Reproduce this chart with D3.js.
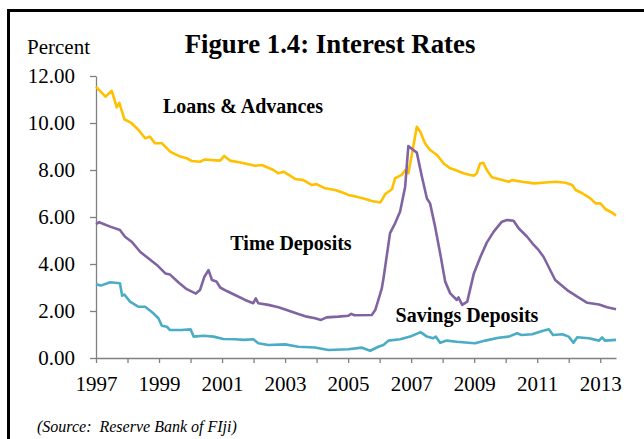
<!DOCTYPE html>
<html>
<head>
<meta charset="utf-8">
<script src="https://cdn.jsdelivr.net/npm/d3@7"></script>
<style>
  html, body { margin: 0; padding: 0; background: #fff; }
  svg { display: block; }
  text { font-family: "Liberation Serif", "Times New Roman", serif; fill: #000; }
</style>
</head>
<body>
<svg id="chart" width="644" height="439"></svg>
<script>
// Commercial bank interest rates, percent (decimal year, rate)
const loansAdvances = [
  [1997.0, 11.55], [1997.1, 11.40], [1997.3, 11.12], [1997.5, 11.37], [1997.66, 10.67],
  [1997.74, 10.86], [1997.9, 10.16], [1998.13, 9.99], [1998.35, 9.70], [1998.56, 9.35],
  [1998.71, 9.42], [1998.87, 9.14], [1999.09, 9.14], [1999.35, 8.78], [1999.67, 8.57],
  [1999.88, 8.50], [2000.04, 8.38], [2000.3, 8.35], [2000.46, 8.45], [2000.7, 8.42],
  [2000.94, 8.40], [2001.07, 8.60], [2001.25, 8.40], [2001.62, 8.31], [2002.05, 8.18],
  [2002.26, 8.21], [2002.63, 8.00], [2002.79, 7.86], [2002.95, 7.93], [2003.32, 7.62],
  [2003.58, 7.57], [2003.85, 7.36], [2004.0, 7.40], [2004.27, 7.22], [2004.59, 7.15],
  [2004.8, 7.05], [2005.01, 6.94], [2005.17, 6.89], [2005.49, 6.79], [2005.75, 6.68],
  [2006.02, 6.62], [2006.1, 6.79], [2006.18, 6.98], [2006.39, 7.18], [2006.49, 7.65],
  [2006.7, 7.79], [2006.81, 8.00], [2006.91, 7.86], [2007.02, 8.64], [2007.18, 9.84],
  [2007.29, 9.63], [2007.44, 9.14], [2007.6, 8.85], [2007.82, 8.64], [2008.03, 8.28],
  [2008.24, 8.07], [2008.4, 8.00], [2008.66, 7.86], [2008.87, 7.79], [2009.0, 7.76],
  [2009.08, 7.86], [2009.19, 8.28], [2009.29, 8.31], [2009.4, 8.00], [2009.56, 7.69],
  [2009.83, 7.60], [2010.1, 7.50], [2010.2, 7.57], [2010.52, 7.50], [2010.9, 7.43],
  [2011.27, 7.47], [2011.59, 7.50], [2011.9, 7.46], [2012.11, 7.36], [2012.22, 7.15],
  [2012.43, 7.01], [2012.69, 6.79], [2012.85, 6.58], [2013.0, 6.58], [2013.17, 6.33],
  [2013.38, 6.18], [2013.5, 6.06]
];

const timeDeposits = [
  [1997.0, 5.70], [1997.1, 5.78], [1997.45, 5.59], [1997.76, 5.45], [1997.92, 5.16],
  [1998.13, 4.95], [1998.4, 4.52], [1998.66, 4.24], [1998.93, 3.96], [1999.2, 3.60],
  [1999.35, 3.55], [1999.62, 3.21], [1999.88, 2.93], [2000.17, 2.74], [2000.3, 2.89],
  [2000.44, 3.46], [2000.57, 3.74], [2000.68, 3.32], [2000.82, 3.26], [2000.94, 3.00],
  [2001.15, 2.85], [2001.41, 2.68], [2001.73, 2.47], [2001.99, 2.33], [2002.07, 2.54],
  [2002.15, 2.33], [2002.47, 2.26], [2002.79, 2.16], [2003.05, 2.04], [2003.42, 1.87],
  [2003.69, 1.76], [2003.95, 1.69], [2004.14, 1.62], [2004.32, 1.73], [2004.69, 1.76],
  [2005.01, 1.80], [2005.1, 1.88], [2005.2, 1.82], [2005.75, 1.83], [2005.86, 2.04],
  [2005.96, 2.47], [2006.07, 2.97], [2006.13, 3.46], [2006.33, 5.31], [2006.49, 5.73],
  [2006.65, 6.23], [2006.81, 7.29], [2006.91, 9.02], [2007.07, 8.85], [2007.18, 8.74],
  [2007.34, 7.72], [2007.5, 6.79], [2007.6, 6.58], [2007.76, 5.59], [2007.92, 4.46],
  [2008.08, 3.25], [2008.24, 2.75], [2008.45, 2.47], [2008.5, 2.58], [2008.62, 2.26],
  [2008.78, 2.40], [2008.99, 3.60], [2009.2, 4.31], [2009.4, 4.91], [2009.62, 5.38],
  [2009.88, 5.80], [2010.04, 5.87], [2010.25, 5.84], [2010.41, 5.52], [2010.68, 5.16],
  [2010.89, 4.81], [2011.04, 4.60], [2011.2, 4.31], [2011.57, 3.32], [2011.95, 2.89],
  [2012.27, 2.61], [2012.59, 2.35], [2012.96, 2.28], [2013.22, 2.16], [2013.5, 2.07]
];

const savingsDeposits = [
  [1997.0, 3.14], [1997.15, 3.08], [1997.45, 3.22], [1997.76, 3.18], [1997.83, 2.65],
  [1997.9, 2.70], [1998.08, 2.40], [1998.35, 2.18], [1998.56, 2.18], [1998.82, 1.90],
  [1998.98, 1.69], [1999.09, 1.37], [1999.25, 1.33], [1999.35, 1.19], [1999.72, 1.19],
  [2000.0, 1.22], [2000.1, 0.91], [2000.41, 0.95], [2000.73, 0.91], [2001.04, 0.81],
  [2001.41, 0.80], [2001.7, 0.77], [2001.99, 0.80], [2002.15, 0.63], [2002.47, 0.55],
  [2003.0, 0.58], [2003.42, 0.48], [2003.95, 0.45], [2004.37, 0.34], [2005.0, 0.37],
  [2005.44, 0.44], [2005.7, 0.31], [2005.96, 0.48], [2006.12, 0.55], [2006.28, 0.74],
  [2006.65, 0.80], [2006.97, 0.91], [2007.3, 1.10], [2007.5, 0.91], [2007.7, 0.84],
  [2007.78, 0.91], [2007.92, 0.65], [2008.13, 0.74], [2008.45, 0.69], [2008.82, 0.65],
  [2009.03, 0.63], [2009.35, 0.74], [2009.77, 0.86], [2010.1, 0.91], [2010.36, 1.05],
  [2010.5, 0.98], [2010.84, 1.01], [2011.16, 1.15], [2011.37, 1.22], [2011.5, 0.98],
  [2011.8, 1.01], [2012.0, 0.91], [2012.15, 0.65], [2012.27, 0.88], [2012.64, 0.84],
  [2012.96, 0.74], [2013.06, 0.88], [2013.15, 0.74], [2013.5, 0.77]
];

const yTicks = [0, 2, 4, 6, 8, 10, 12];
const xTickYears = d3.range(1997, 2014);
const xLabelYears = [1997, 1999, 2001, 2003, 2005, 2007, 2009, 2011, 2013];

const seriesList = [
  { name: "Loans & Advances", values: loansAdvances, color: "#FFC000", label: [243, 106] },
  { name: "Time Deposits", values: timeDeposits, color: "#8064A2", label: [291, 243] },
  { name: "Savings Deposits", values: savingsDeposits, color: "#4BACC6", label: [467, 315] }
];

const svg = d3.select("#chart");
const W = 644, H = 439;
const plot = { left: 96, right: 616, top: 76, bottom: 358 };

const x = d3.scaleLinear().domain([1997, 2013.5]).range([plot.left, plot.right]);
const y = d3.scaleLinear().domain([0, 12]).range([plot.bottom, plot.top]);

// frame: heavy rule along the top and left edges
svg.append("line").attr("x1", 7).attr("x2", W).attr("y1", 10.5).attr("y2", 10.5)
  .attr("stroke", "#000").attr("stroke-width", 3);
svg.append("line").attr("x1", 8.5).attr("x2", 8.5).attr("y1", 9).attr("y2", H)
  .attr("stroke", "#000").attr("stroke-width", 3);

// title and unit label
svg.append("text").attr("x", 330).attr("y", 53).attr("text-anchor", "middle")
  .style("font-weight", "bold").style("font-size", "26.8px")
  .text("Figure 1.4: Interest Rates");
svg.append("text").attr("x", 27).attr("y", 54).style("font-size", "21px").text("Percent");

// y axis
const yAxis = d3.axisLeft(y).tickValues(yTicks).tickFormat(d3.format(".2f"))
  .tickSizeInner(6).tickSizeOuter(0).tickPadding(15);
const gy = svg.append("g").attr("transform", `translate(${plot.left},0)`).call(yAxis);
gy.select(".domain").attr("stroke", "#808080").attr("stroke-width", 1.3);
gy.selectAll(".tick line").attr("stroke", "#808080").attr("stroke-width", 1.3);
gy.selectAll(".tick text").style("font-size", "21px")
  .style("font-family", "'Liberation Serif', serif").attr("fill", "#000");

// x axis: a tick every year, labels every other year
const xAxis = d3.axisBottom(x).tickValues(xTickYears)
  .tickFormat(d => xLabelYears.includes(d) ? String(d) : "")
  .tickSizeInner(5).tickSizeOuter(0).tickPadding(13);
const gx = svg.append("g").attr("transform", `translate(0,${plot.bottom})`).call(xAxis);
gx.select(".domain").attr("stroke", "#808080").attr("stroke-width", 1.3);
gx.selectAll(".tick line").attr("stroke", "#808080").attr("stroke-width", 1.3);
gx.selectAll(".tick text").style("font-size", "21px")
  .style("font-family", "'Liberation Serif', serif").attr("fill", "#000");

// series lines
const line = d3.line().x(d => x(d[0])).y(d => y(d[1]));
seriesList.forEach(s => {
  svg.append("path").datum(s.values)
    .attr("fill", "none").attr("stroke", s.color)
    .attr("stroke-width", 2.6).attr("stroke-linejoin", "round")
    .attr("d", line);
});

// series labels
seriesList.forEach(s => {
  svg.append("text").attr("x", s.label[0]).attr("y", s.label[1])
    .attr("text-anchor", "middle").attr("dominant-baseline", "central")
    .style("font-weight", "bold").style("font-size", "20px")
    .text(s.name);
});

// source note (double space kept)
svg.append("text").attr("x", 37).attr("y", 432)
  .style("font-style", "italic").style("font-size", "16px")
  .style("white-space", "pre")
  .text("(Source:  Reserve Bank of FIji)");
</script>
</body>
</html>
